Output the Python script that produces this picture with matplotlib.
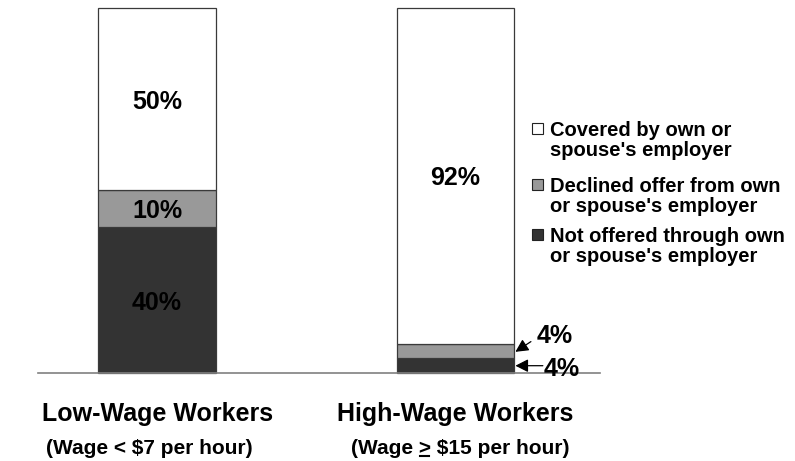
import numpy as np
import matplotlib.pyplot as plt
import matplotlib.patches as mpatches

plt.rcParams['font.family'] = ['Liberation Sans', 'DejaVu Sans']
plt.rcParams['font.weight'] = 'bold'

groups = ["Low-Wage Workers", "High-Wage Workers"]
subtitles = ["(Wage < $7 per hour)", "(Wage > $15 per hour)"]
not_offered = [40, 4]
declined = [10, 4]
covered = [50, 92]

series_labels = [
    "Covered by own or\nspouse's employer",
    "Declined offer from own\nor spouse's employer",
    "Not offered through own\nor spouse's employer",
]
series_colors = ["#ffffff", "#999999", "#333333"]

W, H = 795, 461
fig = plt.figure(figsize=(W / 100, H / 100), dpi=100)
ax = fig.add_axes([38 / W, 1 - 373 / H, 562 / W, 365 / H])

x = np.arange(len(groups))
width = 0.395
edge = dict(edgecolor="#3a3a3a", linewidth=0.9, clip_on=False)

ax.bar(x, not_offered, width, color=series_colors[2], **edge)
ax.bar(x, declined, width, bottom=not_offered, color=series_colors[1], **edge)
bottom2 = np.array(not_offered) + np.array(declined)
ax.bar(x, covered, width, bottom=bottom2, color=series_colors[0], **edge)

ax.set_xlim(-0.399, 1.484)
ax.set_ylim(0, 100)
for s in ["left", "right", "top"]:
    ax.spines[s].set_visible(False)
ax.spines["bottom"].set_color("#808080")
ax.spines["bottom"].set_linewidth(1.2)
ax.set_xticks([])
ax.set_yticks([])

# value labels centred in their segments
lab = dict(ha="center", va="center_baseline", fontsize=18, fontweight="bold",
           color="black")
ax.text(x[0], not_offered[0] / 2, f"{not_offered[0]}%", **lab)
ax.text(x[0], not_offered[0] + declined[0] / 2, f"{declined[0]}%", **lab)
ax.text(x[0], bottom2[0] + covered[0] / 2, f"{covered[0]}%", **lab)
ax.text(x[1], bottom2[1] + covered[1] / 2, f"{covered[1]}%", **lab)

# the thin high-wage segments are labelled off to the side with arrows
right = x[1] + width / 2
arrow = dict(arrowstyle="-|>,head_length=0.55,head_width=0.28", color="black",
             lw=0.9, mutation_scale=14, shrinkA=0, shrinkB=0)
ax.text(1.333, not_offered[1] + declined[1] / 2 + 4.7, f"{declined[1]}%", **lab)
ax.annotate("", xy=(right + 0.003, not_offered[1] + declined[1] / 2 - 0.2),
            xytext=(right + 0.055, not_offered[1] + declined[1] / 2 + 2.6),
            arrowprops=arrow)
ax.text(1.357, not_offered[1] / 2 - 0.1, f"{not_offered[1]}%", **lab)
ax.annotate("", xy=(right + 0.003, not_offered[1] / 2),
            xytext=(right + 0.095, not_offered[1] / 2),
            arrowprops=arrow)

# group labels under the axis
sub_x = [-0.027, 1.015]
for xi, sx, name, sub in zip(x, sub_x, groups, subtitles):
    ax.text(xi, -11.1, name, ha="center", va="center", fontsize=18,
            fontweight="bold")
    ax.text(sx, -20.7, sub, ha="center", va="center", fontsize=15,
            fontweight="bold")

# underline the ">" so it reads as "greater than or equal"
fig.canvas.draw()
r = fig.canvas.get_renderer()
sub_txt = ax.texts[-1]
bb = sub_txt.get_window_extent(r)
probe = fig.text(0, 0, "(Wage >", fontsize=15, fontweight="bold")
w_pre = probe.get_window_extent(r).width
probe.set_text(">")
w_gt = probe.get_window_extent(r).width
probe.remove()
x1 = bb.x0 + w_pre - w_gt + 1.5
x2 = bb.x0 + w_pre - 1.5
yl = bb.y0 + 2
fig.add_artist(plt.Line2D([x1 / W, x2 / W], [yl / H, yl / H], color="black",
                          lw=1.5, transform=fig.transFigure))

# legend drawn by hand so each square sits on the first line of its label
leg_y = [129, 185, 235]
for yy, lbl, col in zip(leg_y, series_labels, series_colors):
    fig.add_artist(mpatches.Rectangle((532 / W, 1 - (yy + 5.5) / H), 11 / W, 11 / H,
                                      facecolor=col, edgecolor="#222222", lw=0.8,
                                      transform=fig.transFigure))
    fig.text(550 / W, 1 - (yy + 11.5) / H, lbl, ha="left", va="center",
             fontsize=14.5, fontweight="bold", linespacing=1.08)

fig.savefig("out.png", dpi=100)
